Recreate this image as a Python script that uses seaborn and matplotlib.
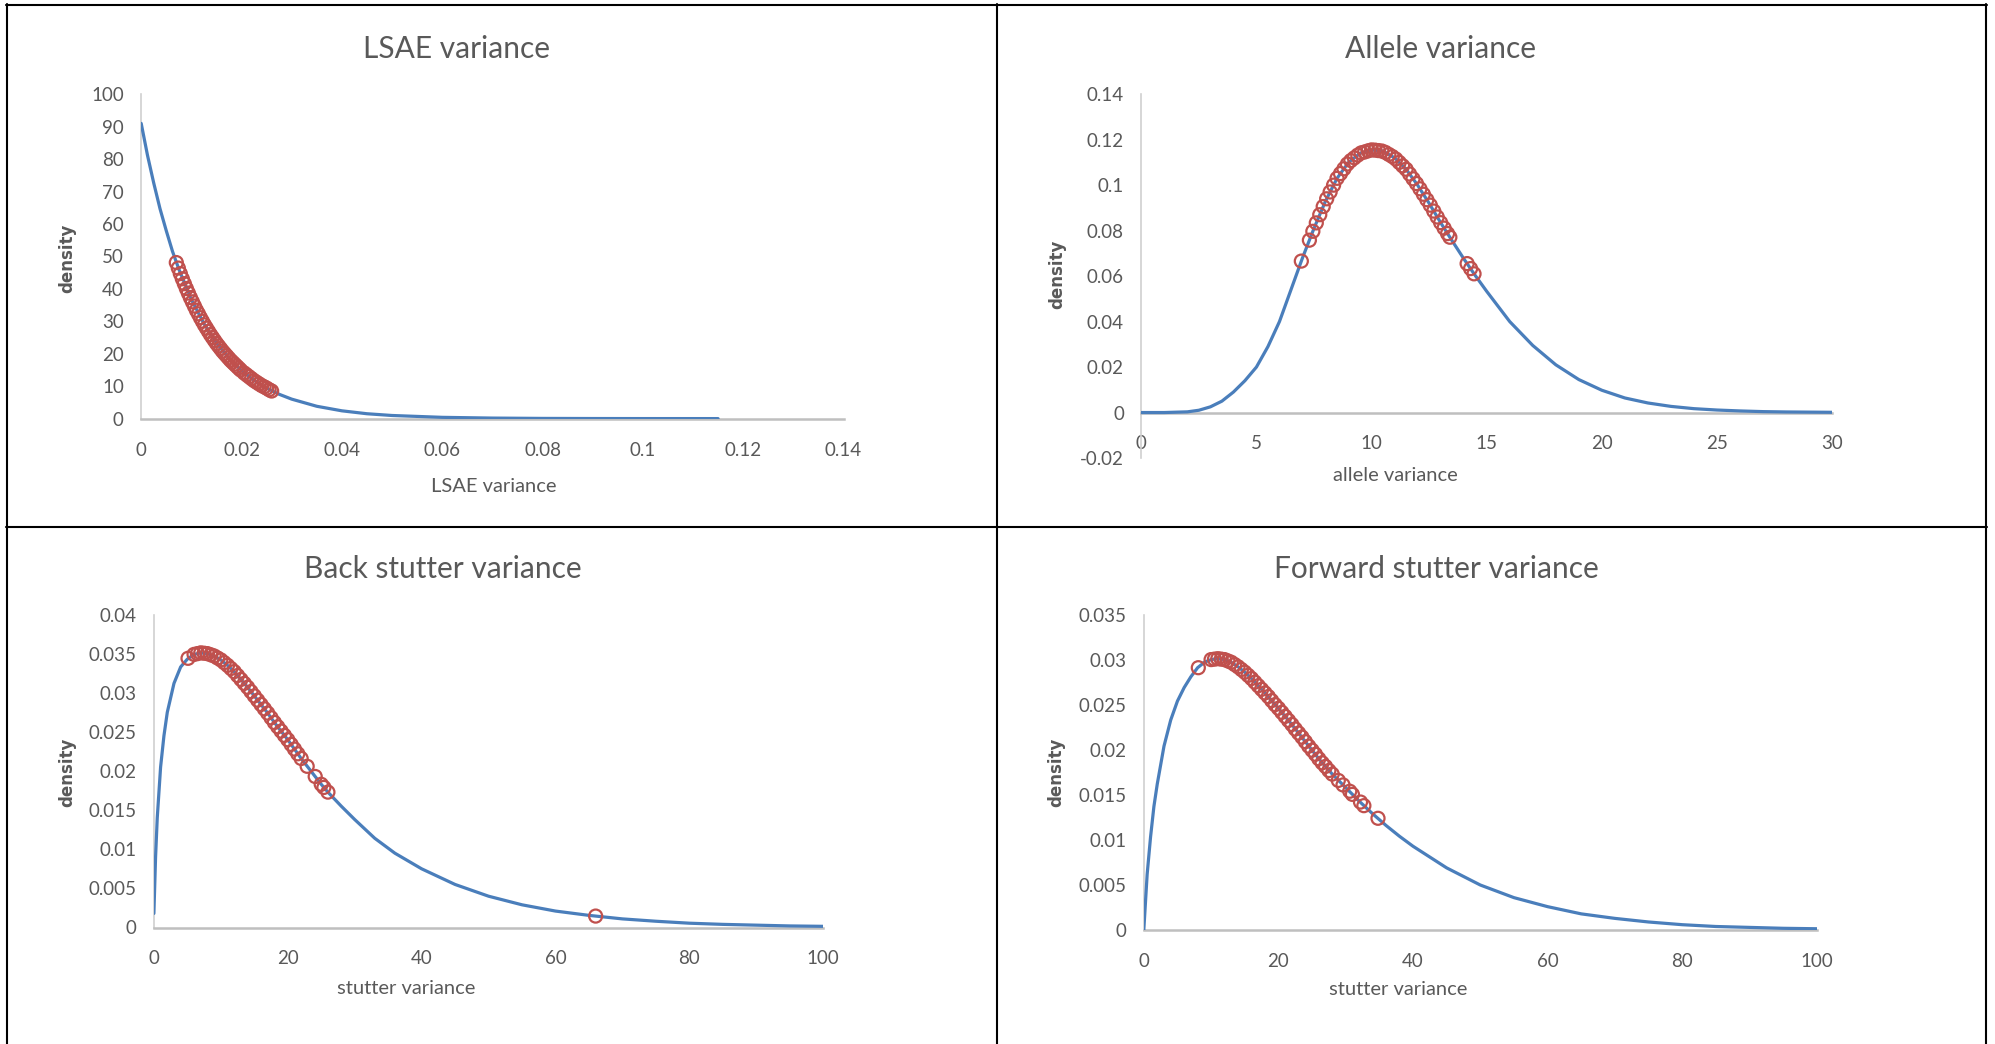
import matplotlib
matplotlib.use("Agg")
import matplotlib.pyplot as plt
from matplotlib.lines import Line2D
import pandas as pd
import seaborn as sns

# ---------------- data ----------------
# Panel 1: LSAE variance
lsae_curve_x = [0, 0.00125, 0.0025, 0.00375, 0.005, 0.00625, 0.0075, 0.01, 0.0125, 0.015, 0.0175,
                0.02, 0.0225, 0.025, 0.0275, 0.03, 0.035, 0.04, 0.045, 0.05, 0.06, 0.07,
                0.08, 0.09, 0.1, 0.115]
lsae_curve_y = [91, 81.2, 72.6, 64.7, 57.9, 51.5, 46.1, 36.7, 29.3, 23.3, 18.6,
                14.8, 11.8, 9.4, 7.5, 6.0, 3.8, 2.4, 1.5, 0.96, 0.39, 0.16,
                0.06, 0.025, 0.01, 0.003]
lsae_pts_x = [0.007, 0.0074, 0.0078, 0.0082, 0.0086, 0.009, 0.0094, 0.0098, 0.0102, 0.0106,
              0.011, 0.0114, 0.0118, 0.0122, 0.0126, 0.013, 0.0134, 0.0138, 0.0142, 0.0146,
              0.015, 0.0154, 0.0158, 0.0162, 0.0166, 0.017, 0.0174, 0.0178, 0.0182, 0.0186,
              0.019, 0.0194, 0.0198, 0.0205, 0.021, 0.0215, 0.022, 0.0225, 0.023, 0.0235,
              0.024, 0.0245, 0.025, 0.0255, 0.026]
lsae_pts_y = [48.1, 46.4, 44.7, 43.1, 41.6, 40.1, 38.7, 37.3, 36.0, 34.7,
              33.4, 32.3, 31.1, 30.0, 28.9, 27.9, 26.9, 25.9, 25.0, 24.1,
              23.2, 22.4, 21.6, 20.8, 20.1, 19.4, 18.7, 18.0, 17.4, 16.8,
              16.2, 15.6, 15.0, 14.1, 13.5, 12.9, 12.3, 11.7, 11.2, 10.7,
              10.2, 9.8, 9.4, 8.9, 8.5]

# Panel 2: Allele variance
allele_curve_x = [0, 1, 2, 2.5, 3, 3.5, 4, 4.5, 5, 5.5, 6, 6.5, 7, 7.5, 8, 8.5, 9, 9.5, 10,
                  10.5, 11, 11.5, 12, 12.5, 13, 13.5, 14, 14.5, 15, 16, 17, 18, 19, 20,
                  21, 22, 23, 24, 25, 26, 27, 28, 30]
allele_curve_y = [0, 0, 0.0003, 0.001, 0.0025, 0.005, 0.009, 0.014, 0.02, 0.029, 0.04, 0.054,
                  0.068, 0.081, 0.093, 0.103, 0.110, 0.114, 0.1155, 0.115, 0.112, 0.107,
                  0.100, 0.092, 0.0835, 0.0755, 0.0677, 0.0603, 0.0533, 0.040, 0.0295,
                  0.021, 0.0145, 0.0098, 0.0064, 0.0042, 0.0027, 0.0017, 0.0011, 0.0007,
                  0.0004, 0.00025, 0.0001]
allele_pts_x = [6.95, 7.3, 7.45, 7.6, 7.75, 7.9, 8.05, 8.2, 8.35, 8.5, 8.65, 8.8, 8.95, 9.1,
                9.25, 9.4, 9.55, 9.7, 9.85, 10.0, 10.15, 10.3, 10.45, 10.6, 10.75, 10.9,
                11.05, 11.2, 11.35, 11.5, 11.65, 11.8, 11.95, 12.1, 12.25, 12.4, 12.55,
                12.7, 12.85, 13.0, 13.15, 13.3, 13.4, 14.15, 14.3, 14.45]
allele_pts_y = [0.0666, 0.0758, 0.0797, 0.0834, 0.087, 0.0906, 0.094, 0.097, 0.100, 0.103,
                0.1051, 0.1072, 0.1093, 0.1108, 0.112, 0.1132, 0.1142, 0.1146, 0.1151,
                0.1155, 0.1154, 0.1152, 0.1150, 0.1144, 0.1135, 0.1126, 0.1115, 0.110,
                0.1085, 0.107, 0.1049, 0.1028, 0.1007, 0.0984, 0.096, 0.0936, 0.0912,
                0.0886, 0.086, 0.0835, 0.0811, 0.0787, 0.0771, 0.0655, 0.0633, 0.061]

# Panel 3: Back stutter variance
back_curve_x = [0, 0.25, 0.5, 1, 1.5, 2, 3, 4, 5, 6, 7, 8, 9, 10, 11, 12, 13, 14, 15, 16,
                17, 18, 19, 20, 21, 22, 23, 24, 25, 26, 28, 30, 33, 36, 40, 45, 50, 55,
                60, 65, 70, 75, 80, 85, 90, 95, 100]
back_curve_y = [0.0018, 0.009, 0.014, 0.0205, 0.0245, 0.0275, 0.0312, 0.0333, 0.0343,
                0.0349, 0.0351, 0.0350, 0.0347, 0.0342, 0.0335, 0.0327, 0.0317, 0.0307,
                0.0296, 0.0285, 0.0274, 0.0262, 0.0251, 0.0240, 0.0228, 0.0216, 0.0205,
                0.0194, 0.0183, 0.0173, 0.0155, 0.0138, 0.0114, 0.0095, 0.0075, 0.0055,
                0.0040, 0.0029, 0.0021, 0.00155, 0.0011, 0.0008, 0.00055, 0.0004, 0.0003,
                0.0002, 0.00015]
back_pts_x = [5.1, 6, 6.5, 7, 7.5, 8, 8.5, 9, 9.5, 10, 10.5, 11, 11.5, 12, 12.5, 13, 13.5,
              14, 14.5, 15, 15.5, 16, 16.5, 17, 17.5, 18, 18.5, 19, 19.5, 20, 20.5, 21,
              21.5, 22, 22.9, 24.1, 25.0, 25.4, 26.0, 66.0]
back_pts_y = [0.0344, 0.0349, 0.0350, 0.0351, 0.03505, 0.0350, 0.03485, 0.0347, 0.03445,
              0.0342, 0.03385, 0.0335, 0.0331, 0.0327, 0.0322, 0.0317, 0.0312, 0.0307,
              0.03015, 0.0296, 0.02905, 0.0285, 0.02795, 0.0274, 0.0268, 0.0262, 0.02565,
              0.0251, 0.02455, 0.0240, 0.0234, 0.0228, 0.0222, 0.0216, 0.0206, 0.0193,
              0.0183, 0.0179, 0.0173, 0.00146]

# Panel 4: Forward stutter variance
fwd_curve_x = [0, 0.5, 1, 1.5, 2, 3, 4, 5, 6, 7, 8, 9, 10, 11, 12, 13, 14, 15, 16, 17, 18,
               19, 20, 21, 22, 23, 24, 25, 26, 27, 28, 29, 30, 31, 32, 33, 34, 35, 36, 38,
               40, 45, 50, 55, 60, 65, 70, 75, 80, 85, 90, 95, 100]
fwd_curve_y = [0, 0.0062, 0.0103, 0.0137, 0.0162, 0.0204, 0.0233, 0.0254, 0.0269, 0.0281,
               0.0291, 0.0297, 0.0300, 0.0301, 0.0300, 0.0297, 0.0292, 0.0286, 0.0279,
               0.0271, 0.0263, 0.02545, 0.0246, 0.0237, 0.0228, 0.02185, 0.0209, 0.01995,
               0.0190, 0.01815, 0.0173, 0.01655, 0.0158, 0.01505, 0.0143, 0.0136, 0.0129,
               0.01225, 0.0116, 0.0104, 0.0093, 0.0069, 0.0050, 0.0036, 0.0026, 0.0018,
               0.0013, 0.0009, 0.0006, 0.0004, 0.0003, 0.0002, 0.00015]
fwd_pts_x = [8.1, 10, 10.5, 11, 11.5, 12, 12.5, 13, 13.5, 14, 14.5, 15, 15.5, 16, 16.5, 17,
             17.5, 18, 18.5, 19, 19.5, 20, 20.5, 21, 21.5, 22, 22.5, 23, 23.5, 24, 24.5,
             25, 25.5, 26, 26.5, 27, 27.5, 28, 28.9, 29.6, 30.6, 31.0, 32.2, 32.7, 34.8]
fwd_pts_y = [0.0291, 0.0300, 0.03005, 0.0301, 0.03005, 0.0300, 0.02985, 0.0297, 0.02945,
             0.0292, 0.0289, 0.0286, 0.02825, 0.0279, 0.0275, 0.0271, 0.0267, 0.0263,
             0.0259, 0.02545, 0.0250, 0.0246, 0.02415, 0.0237, 0.02325, 0.0228, 0.0223,
             0.02185, 0.0214, 0.0209, 0.0204, 0.01995, 0.0195, 0.0190, 0.01855, 0.01815,
             0.0177, 0.0173, 0.0166, 0.0161, 0.0154, 0.01505, 0.0142, 0.0138, 0.0124]

# tick values / labels
lsae_xticks = [0, 0.02, 0.04, 0.06, 0.08, 0.1, 0.12, 0.14]
lsae_xticklabels = ["0", "0.02", "0.04", "0.06", "0.08", "0.1", "0.12", "0.14"]
lsae_yticks = [0, 10, 20, 30, 40, 50, 60, 70, 80, 90, 100]
lsae_yticklabels = ["0", "10", "20", "30", "40", "50", "60", "70", "80", "90", "100"]
allele_xticks = [0, 5, 10, 15, 20, 25, 30]
allele_xticklabels = ["0", "5", "10", "15", "20", "25", "30"]
allele_yticks = [-0.02, 0, 0.02, 0.04, 0.06, 0.08, 0.1, 0.12, 0.14]
allele_yticklabels = ["-0.02", "0", "0.02", "0.04", "0.06", "0.08", "0.1", "0.12", "0.14"]
stutter_xticks = [0, 20, 40, 60, 80, 100]
stutter_xticklabels = ["0", "20", "40", "60", "80", "100"]
back_yticks = [0, 0.005, 0.01, 0.015, 0.02, 0.025, 0.03, 0.035, 0.04]
back_yticklabels = ["0", "0.005", "0.01", "0.015", "0.02", "0.025", "0.03", "0.035", "0.04"]
fwd_yticks = [0, 0.005, 0.01, 0.015, 0.02, 0.025, 0.03, 0.035]
fwd_yticklabels = ["0", "0.005", "0.01", "0.015", "0.02", "0.025", "0.03", "0.035"]

# ---------------- styling ----------------
W, H = 1995, 1044
BLUE = "#4A7EBB"
RED = "#C0504D"
TXT = "#595959"

sns.set_theme(style="white")
plt.rcParams["font.family"] = ["Lato", "DejaVu Sans"]

fig = plt.figure(figsize=(W / 100, H / 100), dpi=100)
fig.patch.set_facecolor("white")

panels = [
    dict(box=(141.2, 843.5, 94.2, 418.6), xlim=(0, 0.14), ylim=(0, 100),
         cx=lsae_curve_x, cy=lsae_curve_y, px=lsae_pts_x, py=lsae_pts_y,
         xt=lsae_xticks, xtl=lsae_xticklabels, yt=lsae_yticks, ytl=lsae_yticklabels,
         title="LSAE variance", tpos=(456.8, 48.5),
         xlabel="LSAE variance", xlpos=(493.7, 486.0), ylpos=(67.4, 258.3), zero_spine=False),
    dict(box=(1141.3, 1832.1, 94.2, 458.0), xlim=(0, 30), ylim=(-0.02, 0.14),
         cx=allele_curve_x, cy=allele_curve_y, px=allele_pts_x, py=allele_pts_y,
         xt=allele_xticks, xtl=allele_xticklabels, yt=allele_yticks, ytl=allele_yticklabels,
         title="Allele variance", tpos=(1440.2, 48.5),
         xlabel="allele variance", xlpos=(1395.7, 475.8), ylpos=(1057.3, 274.8), zero_spine=True),
    dict(box=(153.9, 823.2, 614.5, 927.5), xlim=(0, 100), ylim=(0, 0.04),
         cx=back_curve_x, cy=back_curve_y, px=back_pts_x, py=back_pts_y,
         xt=stutter_xticks, xtl=stutter_xticklabels, yt=back_yticks, ytl=back_yticklabels,
         title="Back stutter variance", tpos=(442.8, 568.9),
         xlabel="stutter variance", xlpos=(405.9, 988.5), ylpos=(67.4, 772.3), zero_spine=False),
    dict(box=(1143.8, 1816.8, 614.5, 930.1), xlim=(0, 100), ylim=(0, 0.035),
         cx=fwd_curve_x, cy=fwd_curve_y, px=fwd_pts_x, py=fwd_pts_y,
         xt=stutter_xticks, xtl=stutter_xticklabels, yt=fwd_yticks, ytl=fwd_yticklabels,
         title="Forward stutter variance", tpos=(1436.4, 568.9),
         xlabel="stutter variance", xlpos=(1398.3, 989.8), ylpos=(1056.0, 772.3), zero_spine=False),
]

for p in panels:
    x0, x1, yt, yb = p["box"]
    ax = fig.add_axes([x0 / W, 1 - yb / H, (x1 - x0) / W, (yb - yt) / H])
    ax.set_facecolor("none")

    curve = pd.DataFrame({"x": p["cx"], "y": p["cy"]})
    pts = pd.DataFrame({"x": p["px"], "y": p["py"]})
    sns.lineplot(data=curve, x="x", y="y", ax=ax, color=BLUE, linewidth=2.3,
                 estimator=None, sort=False, zorder=2)
    sns.scatterplot(data=pts, x="x", y="y", ax=ax, marker="o", s=88,
                    facecolors="none", edgecolor=RED, linewidth=1.6, zorder=3)

    ax.set_xlim(*p["xlim"])
    ax.set_ylim(*p["ylim"])
    ax.set_xticks(p["xt"])
    ax.set_xticklabels(p["xtl"])
    ax.set_yticks(p["yt"])
    ax.set_yticklabels(p["ytl"])
    ax.tick_params(axis="both", length=0, labelsize=13.5, labelcolor=TXT)
    ax.tick_params(axis="x", pad=16.5)
    ax.tick_params(axis="y", pad=12.5)
    ax.grid(False)

    for side in ("top", "right"):
        ax.spines[side].set_visible(False)
    ax.spines["left"].set_color("#D0D0D0")
    ax.spines["left"].set_linewidth(1.2)
    ax.spines["bottom"].set_color("#BFBFBF")
    ax.spines["bottom"].set_linewidth(1.8)
    ax.spines["left"].set_zorder(1)
    ax.spines["bottom"].set_zorder(1)
    if p["zero_spine"]:
        ax.spines["bottom"].set_position(("data", 0))

    # axis labels at measured positions
    ax.set_xlabel(p["xlabel"], fontsize=14.5, color=TXT)
    ax.set_ylabel("density", fontsize=12, color=TXT, fontweight="bold",
                  family=["DejaVu Sans"])
    w_ax, h_ax = x1 - x0, yb - yt
    ax.xaxis.set_label_coords((p["xlpos"][0] - x0) / w_ax, (yb - p["xlpos"][1]) / h_ax)
    ax.yaxis.set_label_coords((p["ylpos"][0] - x0) / w_ax, (yb - p["ylpos"][1]) / h_ax)
    ax.xaxis.label.set_va("center")
    ax.xaxis.label.set_ha("center")
    ax.yaxis.label.set_va("center")
    ax.yaxis.label.set_ha("center")
    for c in ax.collections:
        c.set_clip_on(False)

    fig.text(p["tpos"][0] / W, 1 - p["tpos"][1] / H, p["title"], fontsize=21.5,
             color=TXT, ha="center", va="center")

# table borders
def hline(y, xa, xb, lw=1.5):
    fig.add_artist(Line2D([xa / W, xb / W], [1 - y / H, 1 - y / H],
                          transform=fig.transFigure, color="black", linewidth=lw))

def vline(x, ya, yb, lw=1.5):
    fig.add_artist(Line2D([x / W, x / W], [1 - ya / H, 1 - yb / H],
                          transform=fig.transFigure, color="black", linewidth=lw))

hline(4.5, 6, 1987)
hline(526.5, 6, 1987)
vline(7, 4, 1044)
vline(996.5, 4, 1044)
vline(1986, 4, 1044)

fig.savefig("out.png", dpi=100, facecolor="white")
